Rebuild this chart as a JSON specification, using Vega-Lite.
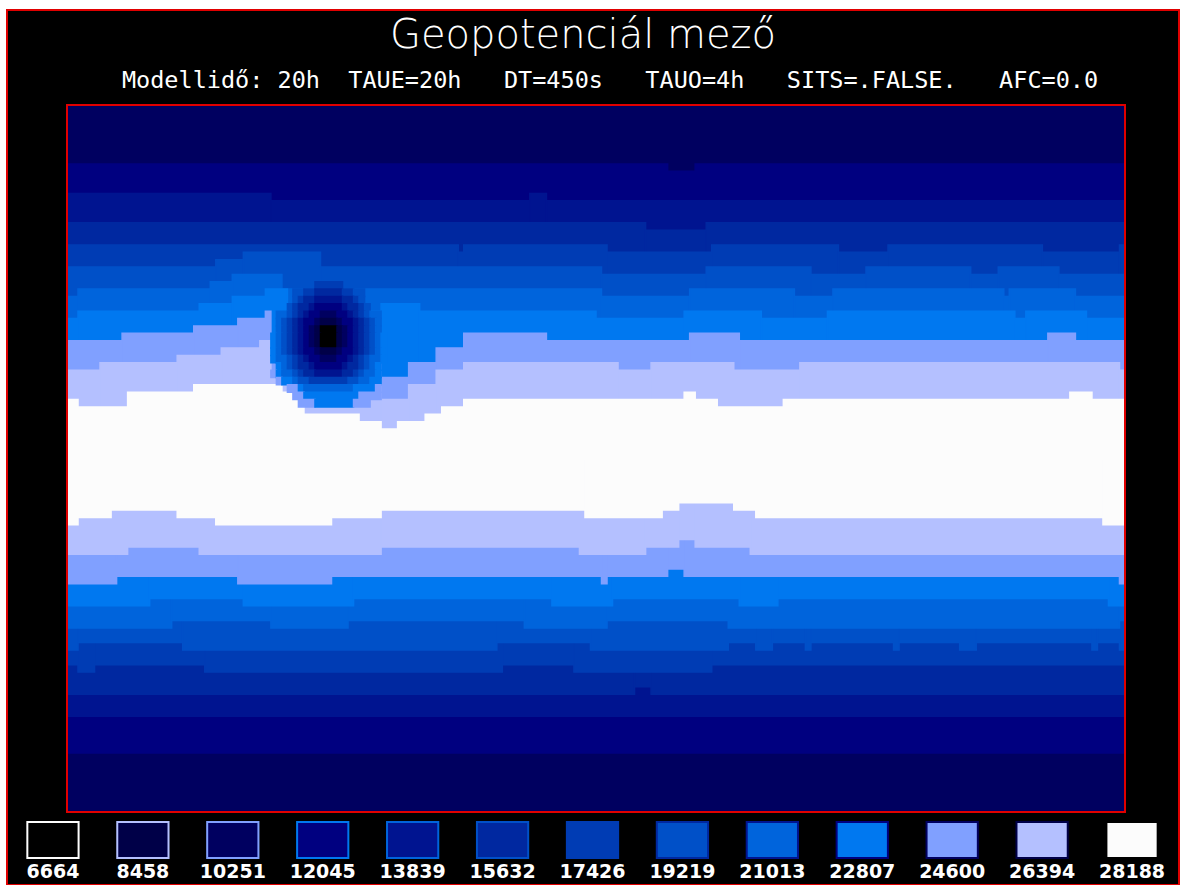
{
"$schema":"https://vega.github.io/schema/vega-lite/v6.json",
"width":1182,"height":885,
"autosize":{"type":"fit","contains":"padding"},
"padding":{"left":7,"top":10,"right":3,"bottom":0},
"background":"white",
"config":{"view":{"fill":"black","stroke":"#e00000","strokeWidth":2}},
"title":{"text":"Geopotenciál mező","subtitle":"\u2800\u2800\u2800Modellidő:\u00a020h\u00a0\u00a0TAUE=20h\u00a0\u00a0\u00a0DT=450s\u00a0\u00a0\u00a0TAUO=4h\u00a0\u00a0\u00a0SITS=.FALSE.\u00a0\u00a0\u00a0AFC=0.0",
"anchor":"middle","frame":"group","offset":-82,"dx":-10,"color":"white","font":"DejaVu Sans","fontSize":40,"fontWeight":200,
"subtitleColor":"white","subtitleFont":"DejaVu Sans Mono","subtitleFontSize":23.5,"subtitleFontWeight":"normal","subtitlePadding":13},
"layer":[
{"layer":[
{"data":{"values":[
{"x0":0,"x1":192,"y0":0,"y1":96,"c":2},
{"x0":0,"x1":109,"y0":8,"y1":48,"c":3},{"x0":109,"x1":114,"y0":9,"y1":48,"c":3},{"x0":114,"x1":192,"y0":8,"y1":48,"c":3},
{"x0":0,"x1":192,"y0":48,"y1":88,"c":3},
{"x0":0,"x1":37,"y0":12,"y1":48,"c":4},{"x0":37,"x1":84,"y0":13,"y1":48,"c":4},{"x0":84,"x1":87,"y0":12,"y1":48,"c":4},{"x0":87,"x1":192,"y0":13,"y1":48,"c":4},
{"x0":0,"x1":192,"y0":48,"y1":83,"c":4},
{"x0":0,"x1":105,"y0":16,"y1":48,"c":5},{"x0":105,"x1":116,"y0":17,"y1":48,"c":5},{"x0":116,"x1":192,"y0":16,"y1":48,"c":5},
{"x0":0,"x1":103,"y0":48,"y1":80,"c":5},{"x0":103,"x1":106,"y0":48,"y1":79,"c":5},{"x0":106,"x1":192,"y0":48,"y1":80,"c":5},
{"x0":0,"x1":71,"y0":19,"y1":48,"c":6},{"x0":71,"x1":72,"y0":20,"y1":48,"c":6},{"x0":72,"x1":98,"y0":19,"y1":48,"c":6},{"x0":98,"x1":117,"y0":20,"y1":48,"c":6},{"x0":117,"x1":140,"y0":19,"y1":48,"c":6},{"x0":140,"x1":149,"y0":20,"y1":48,"c":6},{"x0":149,"x1":177,"y0":19,"y1":48,"c":6},{"x0":177,"x1":191,"y0":20,"y1":48,"c":6},{"x0":191,"x1":192,"y0":19,"y1":48,"c":6},
{"x0":0,"x1":2,"y0":48,"y1":76,"c":6},{"x0":2,"x1":5,"y0":48,"y1":77,"c":6},{"x0":5,"x1":25,"y0":48,"y1":76,"c":6},{"x0":25,"x1":79,"y0":48,"y1":77,"c":6},{"x0":79,"x1":92,"y0":48,"y1":76,"c":6},{"x0":92,"x1":117,"y0":48,"y1":77,"c":6},{"x0":117,"x1":192,"y0":48,"y1":76,"c":6},
{"x0":0,"x1":27,"y0":22,"y1":48,"c":7},{"x0":27,"x1":32,"y0":21,"y1":48,"c":7},{"x0":32,"x1":46,"y0":20,"y1":48,"c":7},{"x0":46,"x1":97,"y0":22,"y1":48,"c":7},{"x0":97,"x1":116,"y0":23,"y1":48,"c":7},{"x0":116,"x1":135,"y0":22,"y1":48,"c":7},{"x0":135,"x1":145,"y0":23,"y1":48,"c":7},{"x0":145,"x1":164,"y0":22,"y1":48,"c":7},{"x0":164,"x1":169,"y0":23,"y1":48,"c":7},{"x0":169,"x1":180,"y0":22,"y1":48,"c":7},{"x0":180,"x1":192,"y0":23,"y1":48,"c":7},
{"x0":0,"x1":2,"y0":48,"y1":74,"c":7},{"x0":2,"x1":21,"y0":48,"y1":73,"c":7},{"x0":21,"x1":78,"y0":48,"y1":74,"c":7},{"x0":78,"x1":95,"y0":48,"y1":73,"c":7},{"x0":95,"x1":120,"y0":48,"y1":74,"c":7},{"x0":120,"x1":125,"y0":48,"y1":73,"c":7},{"x0":125,"x1":128,"y0":48,"y1":74,"c":7},{"x0":128,"x1":134,"y0":48,"y1":73,"c":7},{"x0":134,"x1":135,"y0":48,"y1":74,"c":7},{"x0":135,"x1":150,"y0":48,"y1":73,"c":7},{"x0":150,"x1":151,"y0":48,"y1":74,"c":7},{"x0":151,"x1":162,"y0":48,"y1":73,"c":7},{"x0":162,"x1":165,"y0":48,"y1":74,"c":7},{"x0":165,"x1":186,"y0":48,"y1":73,"c":7},{"x0":186,"x1":187,"y0":48,"y1":74,"c":7},{"x0":187,"x1":191,"y0":48,"y1":73,"c":7},{"x0":191,"x1":192,"y0":48,"y1":74,"c":7},
{"x0":0,"x1":2,"y0":26,"y1":48,"c":8},{"x0":2,"x1":26,"y0":25,"y1":48,"c":8},{"x0":26,"x1":30,"y0":24,"y1":48,"c":8},{"x0":30,"x1":39,"y0":23,"y1":48,"c":8},{"x0":39,"x1":97,"y0":25,"y1":48,"c":8},{"x0":97,"x1":113,"y0":26,"y1":48,"c":8},{"x0":113,"x1":132,"y0":25,"y1":48,"c":8},{"x0":132,"x1":139,"y0":26,"y1":48,"c":8},{"x0":139,"x1":170,"y0":25,"y1":48,"c":8},{"x0":170,"x1":171,"y0":26,"y1":48,"c":8},{"x0":171,"x1":183,"y0":25,"y1":48,"c":8},{"x0":183,"x1":192,"y0":26,"y1":48,"c":8},
{"x0":0,"x1":19,"y0":48,"y1":71,"c":8},{"x0":19,"x1":37,"y0":48,"y1":70,"c":8},{"x0":37,"x1":51,"y0":48,"y1":71,"c":8},{"x0":51,"x1":83,"y0":48,"y1":70,"c":8},{"x0":83,"x1":98,"y0":48,"y1":71,"c":8},{"x0":98,"x1":120,"y0":48,"y1":70,"c":8},{"x0":120,"x1":191,"y0":48,"y1":71,"c":8},{"x0":191,"x1":192,"y0":48,"y1":70,"c":8},
{"x0":0,"x1":2,"y0":29,"y1":48,"c":9},{"x0":2,"x1":24,"y0":28,"y1":48,"c":9},{"x0":24,"x1":30,"y0":27,"y1":48,"c":9},{"x0":30,"x1":36,"y0":26,"y1":48,"c":9},{"x0":36,"x1":40,"y0":25,"y1":48,"c":9},{"x0":40,"x1":57,"y0":28,"y1":48,"c":9},{"x0":57,"x1":64,"y0":27,"y1":48,"c":9},{"x0":64,"x1":96,"y0":28,"y1":48,"c":9},{"x0":96,"x1":112,"y0":29,"y1":48,"c":9},{"x0":112,"x1":126,"y0":28,"y1":48,"c":9},{"x0":126,"x1":138,"y0":29,"y1":48,"c":9},{"x0":138,"x1":172,"y0":28,"y1":48,"c":9},{"x0":172,"x1":174,"y0":29,"y1":48,"c":9},{"x0":174,"x1":185,"y0":28,"y1":48,"c":9},{"x0":185,"x1":192,"y0":29,"y1":48,"c":9},
{"x0":0,"x1":15,"y0":48,"y1":68,"c":9},{"x0":15,"x1":32,"y0":48,"y1":67,"c":9},{"x0":32,"x1":52,"y0":48,"y1":68,"c":9},{"x0":52,"x1":88,"y0":48,"y1":67,"c":9},{"x0":88,"x1":99,"y0":48,"y1":68,"c":9},{"x0":99,"x1":122,"y0":48,"y1":67,"c":9},{"x0":122,"x1":129,"y0":48,"y1":68,"c":9},{"x0":129,"x1":189,"y0":48,"y1":67,"c":9},{"x0":189,"x1":192,"y0":48,"y1":68,"c":9},
{"x0":0,"x1":10,"y0":32,"y1":48,"c":10},{"x0":10,"x1":23,"y0":31,"y1":48,"c":10},{"x0":23,"x1":31,"y0":30,"y1":48,"c":10},{"x0":31,"x1":36,"y0":29,"y1":48,"c":10},{"x0":36,"x1":37,"y0":28,"y1":48,"c":10},{"x0":37,"x1":57,"y0":35,"y1":48,"c":10},{"x0":57,"x1":62,"y0":37,"y1":48,"c":10},{"x0":62,"x1":67,"y0":35,"y1":48,"c":10},{"x0":67,"x1":72,"y0":33,"y1":48,"c":10},{"x0":72,"x1":87,"y0":31,"y1":48,"c":10},{"x0":87,"x1":113,"y0":32,"y1":48,"c":10},{"x0":113,"x1":122,"y0":31,"y1":48,"c":10},{"x0":122,"x1":178,"y0":32,"y1":48,"c":10},{"x0":178,"x1":183,"y0":31,"y1":48,"c":10},{"x0":183,"x1":192,"y0":32,"y1":48,"c":10},
{"x0":0,"x1":9,"y0":48,"y1":65,"c":10},{"x0":9,"x1":31,"y0":48,"y1":64,"c":10},{"x0":31,"x1":48,"y0":48,"y1":65,"c":10},{"x0":48,"x1":97,"y0":48,"y1":64,"c":10},{"x0":97,"x1":98,"y0":48,"y1":65,"c":10},{"x0":98,"x1":109,"y0":48,"y1":64,"c":10},{"x0":109,"x1":112,"y0":48,"y1":63,"c":10},{"x0":112,"x1":191,"y0":48,"y1":64,"c":10},{"x0":191,"x1":192,"y0":48,"y1":65,"c":10},
{"x0":0,"x1":6,"y0":36,"y1":48,"c":11},{"x0":6,"x1":20,"y0":35,"y1":48,"c":11},{"x0":20,"x1":28,"y0":34,"y1":48,"c":11},{"x0":28,"x1":35,"y0":33,"y1":48,"c":11},{"x0":35,"x1":37,"y0":32,"y1":48,"c":11},{"x0":37,"x1":57,"y0":37,"y1":48,"c":11},{"x0":57,"x1":62,"y0":40,"y1":48,"c":11},{"x0":62,"x1":67,"y0":38,"y1":48,"c":11},{"x0":67,"x1":72,"y0":36,"y1":48,"c":11},{"x0":72,"x1":100,"y0":35,"y1":48,"c":11},{"x0":100,"x1":106,"y0":36,"y1":48,"c":11},{"x0":106,"x1":121,"y0":35,"y1":48,"c":11},{"x0":121,"x1":133,"y0":36,"y1":48,"c":11},{"x0":133,"x1":191,"y0":35,"y1":48,"c":11},{"x0":191,"x1":192,"y0":36,"y1":48,"c":11},
{"x0":0,"x1":11,"y0":48,"y1":61,"c":11},{"x0":11,"x1":24,"y0":48,"y1":60,"c":11},{"x0":24,"x1":57,"y0":48,"y1":61,"c":11},{"x0":57,"x1":93,"y0":48,"y1":60,"c":11},{"x0":93,"x1":105,"y0":48,"y1":61,"c":11},{"x0":105,"x1":111,"y0":48,"y1":60,"c":11},{"x0":111,"x1":114,"y0":48,"y1":59,"c":11},{"x0":114,"x1":124,"y0":48,"y1":60,"c":11},{"x0":124,"x1":192,"y0":48,"y1":61,"c":11},
{"x0":0,"x1":2,"y0":40,"y1":48,"c":12},{"x0":2,"x1":11,"y0":41,"y1":48,"c":12},{"x0":11,"x1":23,"y0":39,"y1":48,"c":12},{"x0":23,"x1":39,"y0":38,"y1":48,"c":12},{"x0":39,"x1":41,"y0":39,"y1":48,"c":12},{"x0":41,"x1":43,"y0":40,"y1":48,"c":12},{"x0":43,"x1":53,"y0":42,"y1":48,"c":12},{"x0":53,"x1":57,"y0":43,"y1":48,"c":12},{"x0":57,"x1":60,"y0":44,"y1":48,"c":12},{"x0":60,"x1":65,"y0":43,"y1":48,"c":12},{"x0":65,"x1":68,"y0":42,"y1":48,"c":12},{"x0":68,"x1":72,"y0":41,"y1":48,"c":12},{"x0":72,"x1":112,"y0":40,"y1":48,"c":12},{"x0":112,"x1":114,"y0":39,"y1":48,"c":12},{"x0":114,"x1":118,"y0":40,"y1":48,"c":12},{"x0":118,"x1":130,"y0":41,"y1":48,"c":12},{"x0":130,"x1":182,"y0":40,"y1":48,"c":12},{"x0":182,"x1":186,"y0":39,"y1":48,"c":12},{"x0":186,"x1":192,"y0":40,"y1":48,"c":12},
{"x0":0,"x1":2,"y0":48,"y1":57,"c":12},{"x0":2,"x1":8,"y0":48,"y1":56,"c":12},{"x0":8,"x1":20,"y0":48,"y1":55,"c":12},{"x0":20,"x1":27,"y0":48,"y1":56,"c":12},{"x0":27,"x1":48,"y0":48,"y1":57,"c":12},{"x0":48,"x1":57,"y0":48,"y1":56,"c":12},{"x0":57,"x1":94,"y0":48,"y1":55,"c":12},{"x0":94,"x1":108,"y0":48,"y1":56,"c":12},{"x0":108,"x1":111,"y0":48,"y1":55,"c":12},{"x0":111,"x1":121,"y0":48,"y1":54,"c":12},{"x0":121,"x1":125,"y0":48,"y1":55,"c":12},{"x0":125,"x1":188,"y0":48,"y1":56,"c":12},{"x0":188,"x1":192,"y0":48,"y1":57,"c":12},
{"x0":45,"x1":50,"y0":24,"y1":25,"c":6},
{"x0":41,"x1":43,"y0":25,"y1":26,"c":7},{"x0":43,"x1":45,"y0":25,"y1":26,"c":6},{"x0":45,"x1":50,"y0":25,"y1":26,"c":5},{"x0":50,"x1":52,"y0":25,"y1":26,"c":6},{"x0":52,"x1":54,"y0":25,"y1":26,"c":7},
{"x0":41,"x1":42,"y0":26,"y1":27,"c":7},{"x0":42,"x1":43,"y0":26,"y1":27,"c":6},{"x0":43,"x1":45,"y0":26,"y1":27,"c":5},{"x0":45,"x1":50,"y0":26,"y1":27,"c":4},{"x0":50,"x1":52,"y0":26,"y1":27,"c":5},{"x0":52,"x1":53,"y0":26,"y1":27,"c":6},{"x0":53,"x1":54,"y0":26,"y1":27,"c":7},
{"x0":40,"x1":41,"y0":27,"y1":28,"c":7},{"x0":41,"x1":42,"y0":27,"y1":28,"c":6},{"x0":42,"x1":44,"y0":27,"y1":28,"c":5},{"x0":44,"x1":45,"y0":27,"y1":28,"c":4},{"x0":45,"x1":50,"y0":27,"y1":28,"c":3},{"x0":50,"x1":51,"y0":27,"y1":28,"c":4},{"x0":51,"x1":53,"y0":27,"y1":28,"c":5},{"x0":53,"x1":54,"y0":27,"y1":28,"c":6},{"x0":54,"x1":55,"y0":27,"y1":28,"c":7},
{"x0":38,"x1":40,"y0":28,"y1":29,"c":8},{"x0":40,"x1":41,"y0":28,"y1":29,"c":7},{"x0":41,"x1":42,"y0":28,"y1":29,"c":6},{"x0":42,"x1":43,"y0":28,"y1":29,"c":5},{"x0":43,"x1":44,"y0":28,"y1":29,"c":4},{"x0":44,"x1":46,"y0":28,"y1":29,"c":3},{"x0":46,"x1":49,"y0":28,"y1":29,"c":2},{"x0":49,"x1":51,"y0":28,"y1":29,"c":3},{"x0":51,"x1":52,"y0":28,"y1":29,"c":4},{"x0":52,"x1":53,"y0":28,"y1":29,"c":5},{"x0":53,"x1":54,"y0":28,"y1":29,"c":6},{"x0":54,"x1":55,"y0":28,"y1":29,"c":7},{"x0":55,"x1":57,"y0":28,"y1":29,"c":8},
{"x0":38,"x1":39,"y0":29,"y1":30,"c":8},{"x0":39,"x1":40,"y0":29,"y1":30,"c":7},{"x0":40,"x1":41,"y0":29,"y1":30,"c":6},{"x0":41,"x1":42,"y0":29,"y1":30,"c":5},{"x0":42,"x1":43,"y0":29,"y1":30,"c":4},{"x0":43,"x1":45,"y0":29,"y1":30,"c":3},{"x0":45,"x1":46,"y0":29,"y1":30,"c":2},{"x0":46,"x1":49,"y0":29,"y1":30,"c":1},{"x0":49,"x1":50,"y0":29,"y1":30,"c":2},{"x0":50,"x1":52,"y0":29,"y1":30,"c":3},{"x0":52,"x1":53,"y0":29,"y1":30,"c":4},{"x0":53,"x1":54,"y0":29,"y1":30,"c":5},{"x0":54,"x1":55,"y0":29,"y1":30,"c":6},{"x0":55,"x1":56,"y0":29,"y1":30,"c":7},{"x0":56,"x1":57,"y0":29,"y1":30,"c":8},
{"x0":38,"x1":39,"y0":30,"y1":31,"c":8},{"x0":39,"x1":40,"y0":30,"y1":31,"c":7},{"x0":40,"x1":41,"y0":30,"y1":31,"c":6},{"x0":41,"x1":42,"y0":30,"y1":31,"c":5},{"x0":42,"x1":43,"y0":30,"y1":31,"c":4},{"x0":43,"x1":44,"y0":30,"y1":31,"c":3},{"x0":44,"x1":45,"y0":30,"y1":31,"c":2},{"x0":45,"x1":46,"y0":30,"y1":31,"c":1},{"x0":46,"x1":49,"y0":30,"y1":31,"c":0},{"x0":49,"x1":50,"y0":30,"y1":31,"c":1},{"x0":50,"x1":51,"y0":30,"y1":31,"c":2},{"x0":51,"x1":52,"y0":30,"y1":31,"c":3},{"x0":52,"x1":53,"y0":30,"y1":31,"c":4},{"x0":53,"x1":54,"y0":30,"y1":31,"c":5},{"x0":54,"x1":55,"y0":30,"y1":31,"c":6},{"x0":55,"x1":56,"y0":30,"y1":31,"c":7},{"x0":56,"x1":57,"y0":30,"y1":31,"c":8},
{"x0":37,"x1":38,"y0":31,"y1":33,"c":9},{"x0":38,"x1":39,"y0":31,"y1":33,"c":8},{"x0":39,"x1":40,"y0":31,"y1":33,"c":7},{"x0":40,"x1":41,"y0":31,"y1":33,"c":6},{"x0":41,"x1":42,"y0":31,"y1":33,"c":5},{"x0":42,"x1":43,"y0":31,"y1":33,"c":4},{"x0":43,"x1":44,"y0":31,"y1":33,"c":3},{"x0":44,"x1":45,"y0":31,"y1":33,"c":2},{"x0":45,"x1":46,"y0":31,"y1":33,"c":1},{"x0":46,"x1":49,"y0":31,"y1":33,"c":0},{"x0":49,"x1":50,"y0":31,"y1":33,"c":1},{"x0":50,"x1":51,"y0":31,"y1":33,"c":2},{"x0":51,"x1":52,"y0":31,"y1":33,"c":3},{"x0":52,"x1":53,"y0":31,"y1":33,"c":4},{"x0":53,"x1":54,"y0":31,"y1":33,"c":5},{"x0":54,"x1":55,"y0":31,"y1":33,"c":6},{"x0":55,"x1":56,"y0":31,"y1":33,"c":7},{"x0":56,"x1":57,"y0":31,"y1":33,"c":8},{"x0":57,"x1":58,"y0":31,"y1":33,"c":9},
{"x0":37,"x1":38,"y0":33,"y1":34,"c":9},{"x0":38,"x1":39,"y0":33,"y1":34,"c":8},{"x0":39,"x1":40,"y0":33,"y1":34,"c":7},{"x0":40,"x1":41,"y0":33,"y1":34,"c":6},{"x0":41,"x1":42,"y0":33,"y1":34,"c":5},{"x0":42,"x1":43,"y0":33,"y1":34,"c":4},{"x0":43,"x1":45,"y0":33,"y1":34,"c":3},{"x0":45,"x1":46,"y0":33,"y1":34,"c":2},{"x0":46,"x1":49,"y0":33,"y1":34,"c":1},{"x0":49,"x1":50,"y0":33,"y1":34,"c":2},{"x0":50,"x1":52,"y0":33,"y1":34,"c":3},{"x0":52,"x1":53,"y0":33,"y1":34,"c":4},{"x0":53,"x1":54,"y0":33,"y1":34,"c":5},{"x0":54,"x1":55,"y0":33,"y1":34,"c":6},{"x0":55,"x1":56,"y0":33,"y1":34,"c":7},{"x0":56,"x1":57,"y0":33,"y1":34,"c":8},{"x0":57,"x1":58,"y0":33,"y1":34,"c":9},
{"x0":37,"x1":38,"y0":34,"y1":35,"c":9},{"x0":38,"x1":40,"y0":34,"y1":35,"c":8},{"x0":40,"x1":41,"y0":34,"y1":35,"c":7},{"x0":41,"x1":42,"y0":34,"y1":35,"c":6},{"x0":42,"x1":43,"y0":34,"y1":35,"c":5},{"x0":43,"x1":44,"y0":34,"y1":35,"c":4},{"x0":44,"x1":46,"y0":34,"y1":35,"c":3},{"x0":46,"x1":49,"y0":34,"y1":35,"c":2},{"x0":49,"x1":51,"y0":34,"y1":35,"c":3},{"x0":51,"x1":52,"y0":34,"y1":35,"c":4},{"x0":52,"x1":53,"y0":34,"y1":35,"c":5},{"x0":53,"x1":54,"y0":34,"y1":35,"c":6},{"x0":54,"x1":55,"y0":34,"y1":35,"c":7},{"x0":55,"x1":57,"y0":34,"y1":35,"c":8},{"x0":57,"x1":58,"y0":34,"y1":35,"c":9},
{"x0":38,"x1":39,"y0":35,"y1":36,"c":9},{"x0":39,"x1":40,"y0":35,"y1":36,"c":8},{"x0":40,"x1":41,"y0":35,"y1":36,"c":7},{"x0":41,"x1":42,"y0":35,"y1":36,"c":6},{"x0":42,"x1":44,"y0":35,"y1":36,"c":5},{"x0":44,"x1":45,"y0":35,"y1":36,"c":4},{"x0":45,"x1":50,"y0":35,"y1":36,"c":3},{"x0":50,"x1":51,"y0":35,"y1":36,"c":4},{"x0":51,"x1":53,"y0":35,"y1":36,"c":5},{"x0":53,"x1":54,"y0":35,"y1":36,"c":6},{"x0":54,"x1":55,"y0":35,"y1":36,"c":7},{"x0":55,"x1":56,"y0":35,"y1":36,"c":8},{"x0":56,"x1":57,"y0":35,"y1":36,"c":9},
{"x0":37,"x1":38,"y0":36,"y1":37,"c":10},{"x0":38,"x1":39,"y0":36,"y1":37,"c":9},{"x0":39,"x1":41,"y0":36,"y1":37,"c":8},{"x0":41,"x1":42,"y0":36,"y1":37,"c":7},{"x0":42,"x1":43,"y0":36,"y1":37,"c":6},{"x0":43,"x1":45,"y0":36,"y1":37,"c":5},{"x0":45,"x1":50,"y0":36,"y1":37,"c":4},{"x0":50,"x1":52,"y0":36,"y1":37,"c":5},{"x0":52,"x1":53,"y0":36,"y1":37,"c":6},{"x0":53,"x1":54,"y0":36,"y1":37,"c":7},{"x0":54,"x1":56,"y0":36,"y1":37,"c":8},{"x0":56,"x1":57,"y0":36,"y1":37,"c":9},
{"x0":38,"x1":39,"y0":37,"y1":38,"c":10},{"x0":39,"x1":41,"y0":37,"y1":38,"c":9},{"x0":41,"x1":42,"y0":37,"y1":38,"c":8},{"x0":42,"x1":44,"y0":37,"y1":38,"c":7},{"x0":44,"x1":51,"y0":37,"y1":38,"c":6},{"x0":51,"x1":53,"y0":37,"y1":38,"c":7},{"x0":53,"x1":55,"y0":37,"y1":38,"c":8},{"x0":55,"x1":57,"y0":37,"y1":38,"c":9},
{"x0":40,"x1":42,"y0":38,"y1":39,"c":10},{"x0":42,"x1":43,"y0":38,"y1":39,"c":9},{"x0":43,"x1":52,"y0":38,"y1":39,"c":8},{"x0":52,"x1":56,"y0":38,"y1":39,"c":9},{"x0":56,"x1":57,"y0":38,"y1":39,"c":10},
{"x0":41,"x1":43,"y0":39,"y1":40,"c":10},{"x0":43,"x1":53,"y0":39,"y1":40,"c":9},{"x0":53,"x1":57,"y0":39,"y1":40,"c":10},
{"x0":42,"x1":45,"y0":40,"y1":41,"c":10},{"x0":45,"x1":52,"y0":40,"y1":41,"c":9},{"x0":52,"x1":55,"y0":40,"y1":41,"c":10}
]},
"mark":{"type":"rect","strokeWidth":1.5},
"encoding":{
"x":{"field":"x0","type":"quantitative","scale":{"domain":[0,192],"range":[60,1118],"nice":false,"zero":false},"axis":null},
"x2":{"field":"x1"},
"y":{"field":"y0","type":"quantitative","scale":{"domain":[0,96],"range":[95,802],"nice":false,"zero":false},"axis":null},
"y2":{"field":"y1"},
"fill":{"field":"c","type":"ordinal","scale":{"domain":[0,1,2,3,4,5,6,7,8,9,10,11,12],"range":["#000000","#000048","#000060","#000080","#001490","#0028a0","#003cb4","#0050c8","#0064dc","#0078f0","#80a0ff","#b4c0ff","#fcfcfc"]},"legend":null},
"stroke":{"field":"c","type":"ordinal","scale":{"domain":[0,1,2,3,4,5,6,7,8,9,10,11,12],"range":["#000000","#000048","#000060","#000080","#001490","#0028a0","#003cb4","#0050c8","#0064dc","#0078f0","#80a0ff","#b4c0ff","#fcfcfc"]},"legend":null}
}},
{"data":{"values":[{}]},
"mark":{"type":"rect","fill":"transparent","stroke":"#e00000","strokeWidth":2},
"encoding":{"x":{"datum":0,"type":"quantitative"},"x2":{"datum":192},"y":{"datum":0,"type":"quantitative"},"y2":{"datum":96}}}
]},
{"data":{"values":[
{"c":0,"b":12,"label":"6664"},{"c":1,"b":11,"label":"8458"},{"c":2,"b":10,"label":"10251"},{"c":3,"b":9,"label":"12045"},{"c":4,"b":8,"label":"13839"},{"c":5,"b":7,"label":"15632"},{"c":6,"b":6,"label":"17426"},{"c":7,"b":5,"label":"19219"},{"c":8,"b":4,"label":"21013"},{"c":9,"b":3,"label":"22807"},{"c":10,"b":2,"label":"24600"},{"c":11,"b":1,"label":"26394"},{"c":12,"b":0,"label":"28188"}]},
"layer":[
{"mark":{"type":"rect","strokeWidth":2},
"encoding":{
"x":{"field":"label","type":"nominal","sort":null,"scale":{"range":[1,1170],"paddingInner":0.43,"paddingOuter":0.215},"axis":null},
"y":{"datum":0,"type":"quantitative","scale":{"domain":[0,1],"range":[812,848],"nice":false,"zero":false},"axis":null},
"y2":{"datum":1},
"fill":{"field":"c","type":"ordinal","legend":null},
"stroke":{"field":"b","type":"ordinal","legend":null}}},
{"mark":{"type":"text","font":"DejaVu Sans","fontWeight":"bold","fontSize":19,"fill":"white","align":"center","baseline":"middle"},
"encoding":{
"x":{"field":"label","type":"nominal","sort":null},
"y":{"datum":1.4,"type":"quantitative"},
"text":{"field":"label"}}}
]}
],
"resolve":{"scale":{"x":"independent","y":"independent"}}
}
